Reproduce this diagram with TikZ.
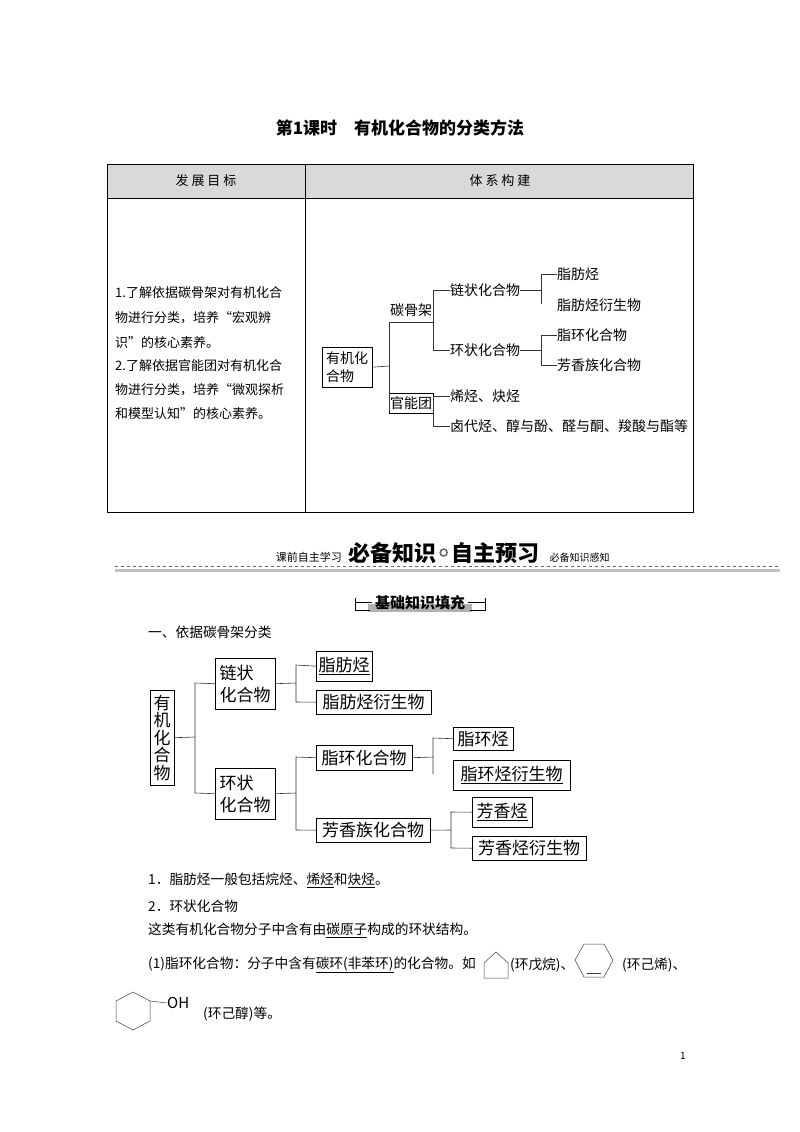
\documentclass[tikz,border=0pt]{standalone}
\usepackage{fontspec}
\setmainfont{Noto Sans CJK SC}
\usetikzlibrary{shapes.geometric}
\begin{document}
\begin{tikzpicture}[x=1pt,y=-1pt,
  t13/.style={font=\fontsize{13}{15}\selectfont,inner sep=0pt,anchor=west},
  t14/.style={font=\fontsize{14}{16}\selectfont,inner sep=0pt,anchor=west},
  bx/.style={draw,font=\fontsize{17}{19}\selectfont,inner sep=0pt,anchor=north west,align=left},
  ln/.style={line width=0.6pt,draw=black!80},
  mol/.style={line width=0.5pt,draw=black!75},
  bt/.style={font=\fontsize{13.7}{16}\selectfont,inner sep=0pt,anchor=west}]
\useasboundingbox (0,0) rectangle (800,1132);
\fill[white] (0,0) rectangle (800,1132);
% title
\node[font=\fontsize{17}{19}\selectfont\bfseries] (title) at (400,128) {第1课时\quad 有机化合物的分类方法};
% table
\fill[black!15] (107,164) rectangle (693,198);
\draw[line width=0.8pt] (107,164) rectangle (693,512);
\draw[line width=0.6pt] (107,198) -- (693,198) (305,164) -- (305,512);
\node[font=\fontsize{13}{15}\selectfont] (h1) at (206,181) {发\ 展\ 目\ 标};
\node[font=\fontsize{13}{15}\selectfont] (h2) at (500,181) {体\ 系\ 构\ 建};
\node[t13] (l1) at (115,293) {1.了解依据碳骨架对有机化合};
\node[t13] (l2) at (115,318) {物进行分类，培养“宏观辨};
\node[t13] (l3) at (115,343) {识”的核心素养。};
\node[t13] (l4) at (115,366) {2.了解依据官能团对有机化合};
\node[t13] (l5) at (115,390) {物进行分类，培养“微观探析};
\node[t13] (l6) at (115,414) {和模型认知”的核心素养。};
% tree 1
\node[draw,font=\fontsize{14}{18}\selectfont,inner sep=1pt,align=left,minimum width=50,minimum height=40,anchor=north west] (a0) at (322,347) {有机化\\合物};
\node[t14] (a1) at (390,310) {碳骨架};
\node[draw,font=\fontsize{14}{16}\selectfont,inner sep=1pt,anchor=west,minimum height=20] (a2) at (389,403) {官能团};
\node[t14] (b1) at (450,290) {链状化合物};
\node[t14] (b2) at (450,350) {环状化合物};
\node[t14] (b3) at (450,396) {烯烃、炔烃};
\node[t14] (b4) at (450,426) {卤代烃、醇与酚、醛与酮、羧酸与酯等};
\node[t14] (c1) at (557,274) {脂肪烃};
\node[t14] (c2) at (557,305) {脂肪烃衍生物};
\node[t14] (c3) at (557,335) {脂环化合物};
\node[t14] (c4) at (557,365) {芳香族化合物};
\draw[ln] (a0.east) -- (389,366);
\draw[ln] (389,322) -- (389,411);
\draw[ln] (389,322) -- (433,322);
\draw[ln] (433,290) -- (433,350);
\draw[ln] (433,290) -- (b1.west);
\draw[ln] (433,350) -- (b2.west);
\draw[ln] (433,396) -- (433,426);
\draw[ln] (433,396) -- (b3.west);
\draw[ln] (433,426) -- (b4.west);
\draw[ln] (b1.east) -- (541,290);
\draw[ln] (541,274) -- (541,304);
\draw[ln] (541,274) -- (c1.west);
\draw[ln] (b2.east) -- (541,350);
\draw[ln] (541,335) -- (541,365);
\draw[ln] (541,335) -- (c3.west);
\draw[ln] (541,365) -- (c4.west);
% banner
\node[font=\fontsize{11}{12}\selectfont,anchor=base east,inner sep=0pt] (k1) at (342,561) {课前自主学习};
\node[font=\fontsize{22}{24}\selectfont\bfseries,anchor=base west,inner sep=0pt] (k2) at (348,561) {必备知识};
\node[circle,draw=black!60,line width=1.5pt,minimum size=7pt,inner sep=0pt,anchor=west] (k3) at ([xshift=3pt]k2.east) {};
\node[font=\fontsize{22}{24}\selectfont\bfseries,anchor=base west,inner sep=0pt] (k4) at ([xshift=3pt]k3.east |- k2.base) {自主预习};
\node[font=\fontsize{10}{12}\selectfont,anchor=base west,inner sep=0pt] (k5) at ([xshift=10pt]k4.east |- k2.base) {必备知识感知};
\draw[dashed,black!60,line width=0.5pt] (115,566) -- (780,566);
\fill[black!25] (115,568.5) rectangle (780,572);
% section label
\fill[black!30] (368,604) rectangle (472,612);
\draw[line width=0.6pt] (355,598) -- (355,610) -- (370,610) (355,602) -- (372,602);
\draw[line width=0.6pt] (485,598) -- (485,610) -- (470,610) (485,602) -- (468,602);
\node[font=\fontsize{15}{17}\selectfont\bfseries] (sec) at (420,603) {基础知识填充};
\node[bt] (s1) at (148,632) {一、依据碳骨架分类};
% tree 2
\node[bx,minimum width=24,minimum height=95,align=center,font=\fontsize{17}{17.5}\selectfont] (r0) at (150,690) {有\\机\\化\\合\\物};
\node[bx,minimum width=60,minimum height=51,font=\fontsize{17}{22}\selectfont] (m1) at (215,658) {链状\\化合物};
\node[bx,minimum width=60,minimum height=51,font=\fontsize{17}{22}\selectfont] (m2) at (215,768) {环状\\化合物};
\node[bx,minimum width=56,minimum height=30] (n1) at (316,651) {\underline{脂肪烃}};
\node[bx,minimum width=115,minimum height=24] (n2) at (316,690) {脂肪烃衍生物};
\node[bx,minimum width=96,minimum height=25] (n3) at (316,745) {脂环化合物};
\node[bx,minimum width=114,minimum height=24] (n4) at (316,818) {芳香族化合物};
\node[bx,minimum width=60,minimum height=23] (p1) at (453,727) {脂环烃};
\node[bx,minimum width=117,minimum height=30] (p2) at (453,760) {\underline{脂环烃衍生物}};
\node[bx,minimum width=60,minimum height=30] (p3) at (472,797) {\underline{芳香烃}};
\node[bx,minimum width=114,minimum height=24] (p4) at (472,836) {芳香烃衍生物};
\draw[ln] (r0.east) -- (195,737);
\draw[ln] (m1.west) -- (195,683) -- (195,793) -- (m2.west);
\draw[ln] (m1.east) -- (296,683);
\draw[ln] (n1.west) -- (296,665) -- (296,702) -- (n2.west);
\draw[ln] (m2.east) -- (296,793);
\draw[ln] (n3.west) -- (296,757) -- (296,830) -- (n4.west);
\draw[ln] (n3.east) -- (433,757);
\draw[ln] (p1.west) -- (433,738) -- (433,774);
\draw[ln] (n4.east) -- (451,830);
\draw[ln] (p3.west) -- (451,812) -- (451,848) -- (p4.west);
% bottom text
\node[bt] (q1) at (148,880) {1．脂肪烃一般包括烷烃、\underline{烯烃}和\underline{炔烃}。};
\node[bt] (q2) at (148,906) {2．环状化合物};
\node[bt] (q3) at (148,930) {这类有机化合物分子中含有由\underline{碳原子}构成的环状结构。};
\node[bt] (q4) at (148,965) {(1)脂环化合物：分子中含有\underline{碳环(非苯环)}的化合物。如};
% cyclopentane (house)
\draw[mol] (484,978) -- (484,963) -- (496,952) -- (508,963) -- (508,978) -- cycle;
\node[bt] (q5) at (510,965) {(环戊烷)、};
% cyclohexene
\draw[mol] (584,944) -- (604,944) -- (613,960) -- (604,977) -- (584,977) -- (575,960) -- cycle;
\draw[mol] (587,973) -- (601,973);
\node[bt] (q6) at (622,965) {(环己烯)、};
% cyclohexanol
\draw[mol] (133,992) -- (150,1001) -- (150,1021) -- (133,1030) -- (116,1021) -- (116,1001) -- cycle;
\node[font=\fontsize{15}{17}\selectfont,inner sep=0pt,anchor=west] (oh) at (167,1003) {OH};
\draw[mol] (150,1001) -- (oh.west);
\node[bt] (q7) at (203,1014) {(环己醇)等。};
\node[font=\fontsize{10}{12}\selectfont] (pg) at (683,1056) {1};
\end{tikzpicture}
\end{document}
